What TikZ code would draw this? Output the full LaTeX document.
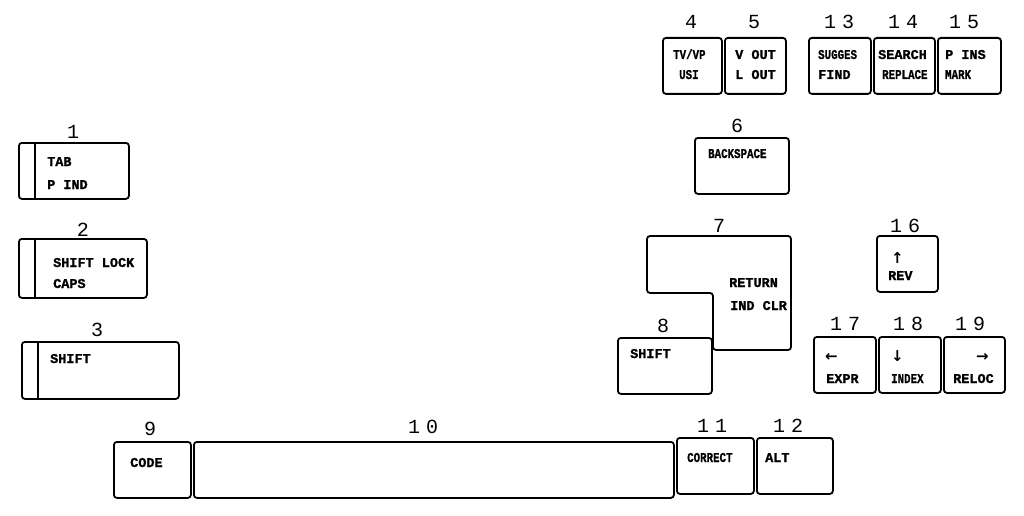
\documentclass[tikz,border=0pt]{standalone}
\usepackage{fontspec}
\newfontfamily\keyfont[FakeBold=1.2]{Liberation Mono}
\newfontfamily\numfont[LetterSpace=30]{Liberation Mono}
\newfontfamily\arrowfont{DejaVu Sans}
\tikzset{
	keycap/.style={draw, line width=1.8pt, rounded corners=3pt, inner sep=0pt, anchor=north west},
	keynum/.style={font=\numfont\fontsize{20}{20}\selectfont, anchor=base, inner sep=0pt},
	keytext/.style={font=\keyfont\bfseries\fontsize{13.5}{13.5}\selectfont, anchor=base west, inner sep=0pt},
	keyarrow/.style={font=\arrowfont\bfseries\fontsize{15}{15}\selectfont, anchor=base west, inner sep=0pt},
	squeezed/.style={xscale=0.8}
}
\begin{document}
\begin{tikzpicture}[x=1pt,y=-1pt]
	\useasboundingbox (0,0) rectangle (1024,516);
	% left keys
	\node[keycap, minimum width=110pt, minimum height=56pt] (k1) at (18,142) {};
	\node[keycap, minimum width=128pt, minimum height=59pt] (k2) at (18,238) {};
	\node[keycap, minimum width=157pt, minimum height=57pt] (k3) at (21,341) {};
	\foreach \k in {k1,k2,k3}
		\draw[line width=1.8pt] ([xshift=17pt]\k.north west) -- ([xshift=17pt]\k.south west);
	\node[keynum] (n1) at (73,138) {1};
	\node[keynum] (n2) at (83,236) {2};
	\node[keynum] (n3) at (97,336) {3};
	\node[keytext] (t1a) at (47,166) {TAB};
	\node[keytext] (t1b) at (47,189) {P IND};
	\node[keytext] (t2a) at (53,267) {SHIFT LOCK};
	\node[keytext] (t2b) at (53,288) {CAPS};
	\node[keytext] (t3) at (50,363) {SHIFT};
	% top row
	\node[keycap, minimum width=59pt, minimum height=56pt] (k4) at (662,37) {};
	\node[keycap, minimum width=61pt, minimum height=56pt] (k5) at (724,37) {};
	\node[keycap, minimum width=62pt, minimum height=56pt] (k13) at (808,37) {};
	\node[keycap, minimum width=61pt, minimum height=56pt] (k14) at (873,37) {};
	\node[keycap, minimum width=63pt, minimum height=56pt] (k15) at (937,37) {};
	\node[keynum] (n4) at (691,29) {4};
	\node[keynum] (n5) at (754,29) {5};
	\node[keynum] (n13) at (839,29) {13};
	\node[keynum] (n14) at (903,29) {14};
	\node[keynum] (n15) at (964,29) {15};
	\node[keytext, squeezed] (t4a) at (673,59) {TV/VP};
	\node[keytext, squeezed] (t4b) at (679,79) {USI};
	\node[keytext] (t5a) at (735,59) {V OUT};
	\node[keytext] (t5b) at (735,79) {L OUT};
	\node[keytext, squeezed] (t13a) at (818,59) {SUGGES};
	\node[keytext] (t13b) at (818,79) {FIND};
	\node[keytext] (t14a) at (878,59) {SEARCH};
	\node[keytext, squeezed] (t14b) at (882,79) {REPLACE};
	\node[keytext] (t15a) at (945,59) {P INS};
	\node[keytext, squeezed] (t15b) at (945,79) {MARK};
	% backspace, return, shift
	\node[keycap, minimum width=94pt, minimum height=56pt] (k6) at (694,137) {};
	\node[keynum] (n6) at (737,132) {6};
	\node[keytext, squeezed] (t6) at (708,158) {BACKSPACE};
	\draw[line width=1.8pt, rounded corners=3pt] (647,236) -- (791,236) -- (791,350) -- (713,350) -- (713,293) -- (647,293) -- cycle;
	\node[keynum] (n7) at (719,232) {7};
	\node[keytext] (t7a) at (729,287) {RETURN};
	\node[keytext] (t7b) at (730,310) {IND CLR};
	\node[keycap, minimum width=94pt, minimum height=56pt] (k8) at (617,337) {};
	\node[keynum] (n8) at (663,332) {8};
	\node[keytext] (t8) at (630,358) {SHIFT};
	% cursor keys
	\node[keycap, minimum width=61pt, minimum height=56pt] (k16) at (876,235) {};
	\node[keycap, minimum width=62pt, minimum height=56pt] (k17) at (813,336) {};
	\node[keycap, minimum width=62pt, minimum height=56pt] (k18) at (878,336) {};
	\node[keycap, minimum width=61pt, minimum height=56pt] (k19) at (943,336) {};
	\node[keynum] (n16) at (905,232) {16};
	\node[keynum] (n17) at (845,330) {17};
	\node[keynum] (n18) at (908,330) {18};
	\node[keynum] (n19) at (970,330) {19};
	\node[keyarrow] (a16) at (891,263) {↑};
	\node[keytext] (t16) at (888,280) {REV};
	\node[keyarrow] (a17) at (825,361) {←};
	\node[keytext] (t17) at (826,383) {EXPR};
	\node[keyarrow] (a18) at (891,361) {↓};
	\node[keytext, squeezed] (t18) at (891,383) {INDEX};
	\node[keyarrow] (a19) at (976,361) {→};
	\node[keytext] (t19) at (953,383) {RELOC};
	% bottom row
	\node[keycap, minimum width=77pt, minimum height=56pt] (k9) at (113,441) {};
	\node[keycap, minimum width=480pt, minimum height=56pt] (k10) at (193,441) {};
	\node[keycap, minimum width=77pt, minimum height=56pt] (k11) at (676,437) {};
	\node[keycap, minimum width=76pt, minimum height=56pt] (k12) at (756,437) {};
	\node[keynum] (n9) at (150,435) {9};
	\node[keynum] (n10) at (423,433) {10};
	\node[keynum] (n11) at (712,432) {11};
	\node[keynum] (n12) at (788,432) {12};
	\node[keytext] (t9) at (130,467) {CODE};
	\node[keytext, squeezed] (t11) at (687,462) {CORRECT};
	\node[keytext] (t12) at (765,462) {ALT};
\end{tikzpicture}
\end{document}
